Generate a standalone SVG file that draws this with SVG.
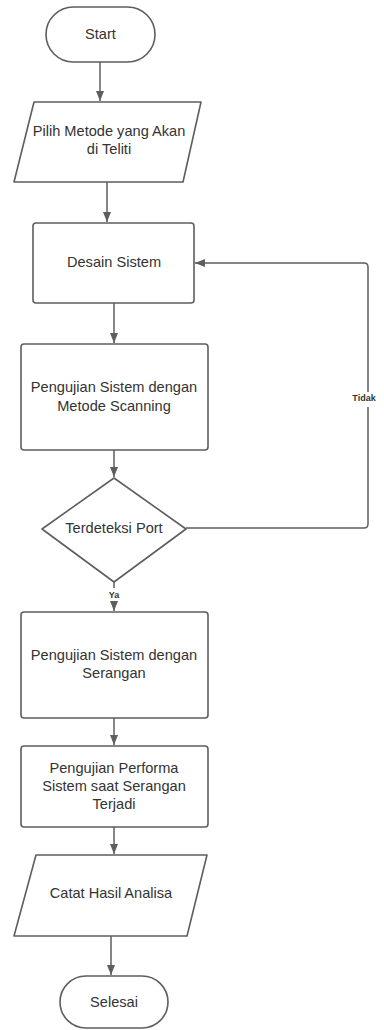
<svg xmlns="http://www.w3.org/2000/svg" width="384" height="1030" viewBox="0 0 384 1030">
<style>
.shape{fill:#ffffff;stroke:#5e5e5e;stroke-width:1.6;stroke-linejoin:round}
.conn{fill:none;stroke:#5e5e5e;stroke-width:1.5}
.t{font-family:"Liberation Sans",Arial,sans-serif;font-size:14.6px;fill:#333333;text-anchor:middle;dominant-baseline:central}
.lbl{font-family:"Liberation Sans",Arial,sans-serif;font-size:9px;font-weight:bold;fill:#333333;text-anchor:middle;dominant-baseline:central}
</style>
<defs>
<marker id="arr" markerUnits="userSpaceOnUse" markerWidth="10" markerHeight="12" refX="10" refY="4" orient="auto">
<path d="M0,0 L10,4 L0,8 Z" fill="#5e5e5e"/>
</marker>
</defs>
<rect width="384" height="1030" fill="#ffffff"/>
<g id="connectors">
<path class="conn" d="M100,62 V101" marker-end="url(#arr)"/>
<path class="conn" d="M107,182 V222" marker-end="url(#arr)"/>
<path class="conn" d="M114,303 V343" marker-end="url(#arr)"/>
<path class="conn" d="M114,450 V477" marker-end="url(#arr)"/>
<path class="conn" d="M186,528 H364 Q368,528 368,524 V267 Q368,263 364,263 H195" marker-end="url(#arr)"/>
<path class="conn" d="M114,582 V611" marker-end="url(#arr)"/>
<path class="conn" d="M114,718 V745" marker-end="url(#arr)"/>
<path class="conn" d="M114,827 V854" marker-end="url(#arr)"/>
<path class="conn" d="M111,936 V975" marker-end="url(#arr)"/>
<rect x="350" y="392" width="34" height="15" fill="#ffffff"/>
<text class="lbl" x="364" y="398">Tidak</text>
<rect x="104" y="588" width="20" height="13" fill="#ffffff"/>
<text class="lbl" x="114" y="595">Ya</text>
</g>
<g id="start">
<rect class="shape" x="46" y="7" width="109" height="55" rx="27.5" ry="27.5"/>
<text class="t" x="100.5" y="34">Start</text>
</g>
<g id="pilih">
<path class="shape" d="M34,102 H201 L183,182 H14 Z"/>
<text class="t" x="109" y="131">Pilih Metode yang Akan</text>
<text class="t" x="109" y="149">di Teliti</text>
</g>
<g id="desain">
<rect class="shape" x="33" y="223" width="161" height="80" rx="3"/>
<text class="t" x="114" y="262">Desain Sistem</text>
</g>
<g id="scanning">
<rect class="shape" x="21" y="344" width="187" height="106" rx="3"/>
<text class="t" x="114" y="387">Pengujian Sistem dengan</text>
<text class="t" x="114" y="406">Metode Scanning</text>
</g>
<g id="decision">
<path class="shape" d="M114,478 L186,529 L114,582 L42,529 Z"/>
<text class="t" x="114" y="528">Terdeteksi Port</text>
</g>
<g id="serangan">
<rect class="shape" x="21" y="612" width="187" height="106" rx="3"/>
<text class="t" x="114" y="655">Pengujian Sistem dengan</text>
<text class="t" x="114" y="673">Serangan</text>
</g>
<g id="performa">
<rect class="shape" x="21" y="746" width="187" height="81" rx="3"/>
<text class="t" x="114" y="768">Pengujian Performa</text>
<text class="t" x="114" y="786">Sistem saat Serangan</text>
<text class="t" x="114" y="804">Terjadi</text>
</g>
<g id="catat">
<path class="shape" d="M36,855 H207 L187,936 H14 Z"/>
<text class="t" x="111" y="893">Catat Hasil Analisa</text>
</g>
<g id="selesai">
<rect class="shape" x="60" y="976" width="108" height="52" rx="26" ry="26"/>
<text class="t" x="114" y="1002">Selesai</text>
</g>
</svg>
